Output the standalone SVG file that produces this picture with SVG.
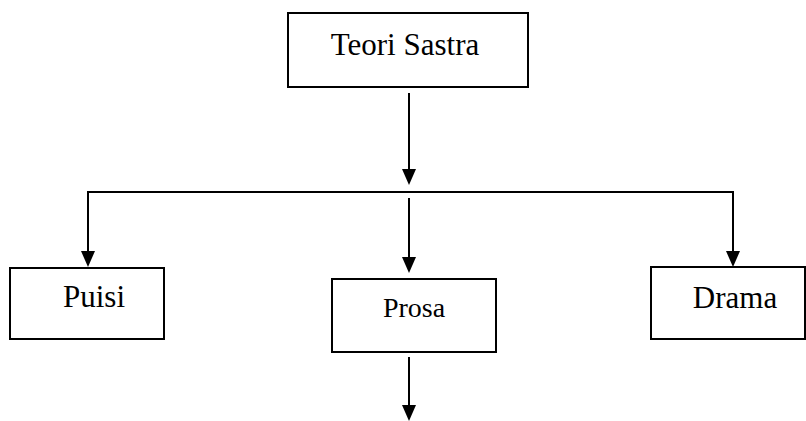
<svg xmlns="http://www.w3.org/2000/svg" width="806" height="421" viewBox="0 0 806 421">
<style>
.box{fill:#fff;stroke:#000;stroke-width:2}
.lbl{font-family:"Liberation Serif","Times New Roman",serif;fill:#000;text-anchor:middle}
.ln{fill:none;stroke:#000;stroke-width:2}
.hd{fill:#000}
</style>
<rect width="806" height="421" fill="#fff"/>
<g id="connectors">
<path class="ln" d="M409,93 V170"/>
<path class="hd" d="M402,169 L416,169 L409,185 Z"/>
<path class="ln" d="M88,252 V192 H733 V252"/>
<path class="hd" d="M81,251 L95,251 L88,267 Z"/>
<path class="hd" d="M726,251 L740,251 L733,267 Z"/>
<path class="ln" d="M409,198 V258"/>
<path class="hd" d="M402,257 L416,257 L409,273 Z"/>
<path class="ln" d="M409,357 V406"/>
<path class="hd" d="M402,405 L416,405 L409,421 Z"/>
</g>
<g id="teori">
<rect class="box" x="288" y="13" width="240" height="74"/>
<text class="lbl" x="405" y="55" font-size="31">Teori Sastra</text>
</g>
<g id="puisi">
<rect class="box" x="10" y="268" width="154" height="71"/>
<text class="lbl" x="94" y="307" font-size="31">Puisi</text>
</g>
<g id="prosa">
<rect class="box" x="332" y="279" width="164" height="73"/>
<text class="lbl" x="414" y="317" font-size="28">Prosa</text>
</g>
<g id="drama">
<rect class="box" x="651" y="267" width="154" height="72"/>
<text class="lbl" x="735" y="308" font-size="31">Drama</text>
</g>
</svg>
